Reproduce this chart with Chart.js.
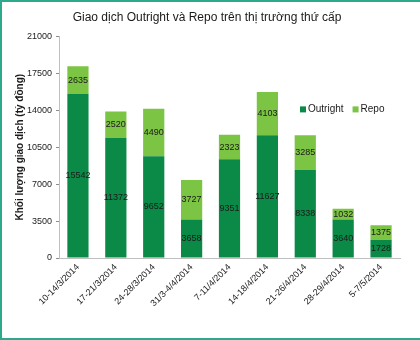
<!DOCTYPE html>
<html><head><meta charset="utf-8">
<script src="https://cdn.jsdelivr.net/npm/chart.js@4"></script>
<style>
html,body{margin:0;padding:0;background:#fff;}
#wrap{position:relative;width:420px;height:340px;}
#frame{position:absolute;left:0;top:0;width:418px;height:336px;border-top:2px solid #2fa98c;border-left:2px solid #2fa98c;border-bottom:2px solid #2fa98c;pointer-events:none;}
</style></head>
<body>
<div id="wrap"><canvas id="c" width="420" height="340"></canvas><div id="frame"></div></div>
<script>
const categories = ["10-14/3/2014","17-21/3/2014","24-28/3/2014","31/3-4/4/2014","7-11/4/2014","14-18/4/2014","21-26/4/2014","28-29/4/2014","5-7/5/2014"];
const outright = [15542,11372,9652,3658,9351,11627,8338,3640,1728];
const repo = [2635,2520,4490,3727,2323,4103,3285,1032,1375];
const yTicks = [0,3500,7000,10500,14000,17500,21000];
const seriesNames = ["Outright","Repo"];
const colors = ["#0b8a47","#7cc443"];
const font = "Liberation Sans";

const labelPlugin = {
  id:'segLabels',
  afterDatasetsDraw(chart){
    const ctx = chart.ctx;
    ctx.save();
    ctx.font = "9px '"+font+"'";
    ctx.fillStyle = "#1a1a1a";
    ctx.textAlign = "center";
    ctx.textBaseline = "middle";
    chart.data.datasets.forEach((ds,i)=>{
      chart.getDatasetMeta(i).data.forEach((bar,j)=>{
        const p = bar.getProps(['x','y','base'],true);
        ctx.fillText(String(ds.data[j]), p.x, (p.y+p.base)/2);
      });
    });
    ctx.restore();
  }
};
const legendPlugin = {
  id:'customLegend',
  afterDraw(chart){
    const ctx = chart.ctx, a = chart.chartArea;
    ctx.save();
    ctx.font = "10px '"+font+"'";
    ctx.textBaseline = "middle";
    let x = a.left + 241, y = a.top + 73;
    seriesNames.forEach((n,i)=>{
      ctx.fillStyle = colors[i];
      ctx.fillRect(x, y-3, 6, 6);
      ctx.fillStyle = "#1a1a1a";
      ctx.fillText(n, x+8, y);
      x += 8 + ctx.measureText(n).width + 9;
    });
    ctx.restore();
  }
};

new Chart(document.getElementById('c'), {
  type:'bar',
  data:{
    labels: categories,
    datasets:[
      {label:seriesNames[0], data:outright, backgroundColor:colors[0], categoryPercentage:1, barPercentage:0.56},
      {label:seriesNames[1], data:repo, backgroundColor:colors[1], categoryPercentage:1, barPercentage:0.56}
    ]
  },
  options:{
    responsive:false, animation:false, devicePixelRatio:1,
    layout:{padding:{left:14,right:20,top:0,bottom:4}},
    plugins:{
      legend:{display:false}, tooltip:{enabled:false},
      title:{display:true, text:"Giao dịch Outright và Repo trên thị trường thứ cấp", color:"#1a1a1a",
        font:{family:font, size:12, weight:'normal'}, padding:{top:10,bottom:12}}
    },
    scales:{
      x:{stacked:true,
        grid:{display:false, drawTicks:false},
        border:{color:"#bfbfbf"},
        ticks:{color:"#1a1a1a", font:{family:font,size:9}, minRotation:45, maxRotation:45, padding:4},
        afterFit(s){ s.height = 78; }
      },
      y:{stacked:true, min:0, max:21000,
        grid:{display:true, drawOnChartArea:false, drawTicks:true, tickLength:3, color:"#8c8c8c"},
        border:{color:"#bfbfbf"},
        afterBuildTicks(s){ s.ticks = yTicks.map(v=>({value:v})); },
        ticks:{color:"#1a1a1a", font:{family:font,size:9}, padding:4, callback:(v)=>String(v)},
        title:{display:true, text:"Khối lượng giao dịch (tỷ đồng)", color:"#1a1a1a", font:{family:font,size:10,weight:'bold'}, padding:{top:0,bottom:8}},
        afterFit(s){ s.width = 45; }
      }
    }
  },
  plugins:[labelPlugin, legendPlugin]
});
</script>
</body></html>
